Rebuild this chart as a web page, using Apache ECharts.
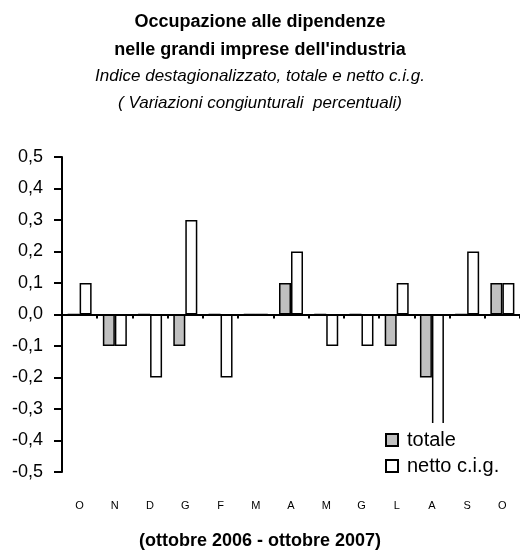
<!DOCTYPE html>
<html>
<head>
<meta charset="utf-8">
<script src="https://cdn.jsdelivr.net/npm/echarts@6/dist/echarts.min.js"></script>
<style>
  html, body { margin: 0; padding: 0; background: #fff; }
  #chart { width: 520px; height: 552px; }
</style>
</head>
<body>
<div id="chart"></div>
<script>
// mesi ottobre 2006 - ottobre 2007
let months = ['O', 'N', 'D', 'G', 'F', 'M', 'A', 'M', 'G', 'L', 'A', 'S', 'O'];
let totale = [0, -0.1, 0, -0.1, 0, 0, 0.1, 0, 0, -0.1, -0.2, 0, 0.1];
let netto = [0.1, -0.1, -0.2, 0.3, -0.2, 0, 0.2, -0.1, -0.1, 0.1, -0.5, 0.2, 0.1];
let yTicks = [-0.5, 0.5, 0.1];

let font = 'Liberation Sans, Arial, sans-serif';
let myChart = echarts.init(document.getElementById('chart'));

let option = {
    animation: false,
    backgroundColor: '#fff',
    title: [
        { text: 'Occupazione alle dipendenze', left: 'center', top: 8,
          textStyle: { fontFamily: font, fontSize: 18, fontWeight: 'bold', color: '#000' } },
        { text: "nelle grandi imprese dell'industria", left: 'center', top: 36,
          textStyle: { fontFamily: font, fontSize: 18, fontWeight: 'bold', color: '#000' } },
        { text: 'Indice destagionalizzato, totale e netto c.i.g.', left: 'center', top: 63,
          textStyle: { fontFamily: font, fontSize: 17, fontStyle: 'italic', fontWeight: 'normal', color: '#000' } },
        { text: '( Variazioni congiunturali  percentuali)', left: 'center', top: 90,
          textStyle: { fontFamily: font, fontSize: 17, fontStyle: 'italic', fontWeight: 'normal', color: '#000' } },
        { text: '(ottobre 2006 - ottobre 2007)', left: 'center', top: 527,
          textStyle: { fontFamily: font, fontSize: 18, fontWeight: 'bold', color: '#000' } }
    ],
    legend: {
        orient: 'vertical',
        left: 381,
        top: 423,
        padding: [7, 4, 8, 4],
        backgroundColor: '#fff',
        itemWidth: 12,
        itemHeight: 12,
        itemGap: 6,
        icon: 'rect',
        textStyle: { fontFamily: font, fontSize: 20, color: '#000', padding: [0, 0, 0, 4] },
        data: ['totale', 'netto c.i.g.']
    },
    grid: { left: 62, top: 157, width: 461, bottom: 80 },
    xAxis: [
        {
            type: 'category',
            data: months,
            axisLine: { onZero: true, lineStyle: { color: '#000', width: 2 } },
            axisTick: { show: true, inside: false, length: 4, lineStyle: { color: '#000', width: 2 } },
            axisLabel: { show: false }
        },
        {
            type: 'category',
            data: months,
            position: 'bottom',
            axisLine: { show: false, onZero: false },
            axisTick: { show: false },
            axisLabel: { margin: 28, fontFamily: font, fontSize: 11, color: '#000' }
        }
    ],
    yAxis: {
        type: 'value',
        min: yTicks[0],
        max: yTicks[1],
        interval: yTicks[2],
        axisLine: { show: true, lineStyle: { color: '#000', width: 2 } },
        axisTick: { show: true, length: 8, lineStyle: { color: '#000', width: 2 } },
        splitLine: { show: false },
        axisLabel: {
            margin: 19,
            fontFamily: font,
            fontSize: 18,
            color: '#000',
            formatter: function (v) { return v.toFixed(1).replace('.', ','); }
        }
    },
    series: [
        {
            name: 'totale',
            type: 'bar',
            data: totale,
            barWidth: 12,
            barGap: '0%',
            itemStyle: { color: '#c0c0c0', borderColor: '#000', borderWidth: 1.5 }
        },
        {
            name: 'netto c.i.g.',
            type: 'bar',
            data: netto,
            barWidth: 12,
            itemStyle: { color: '#fff', borderColor: '#000', borderWidth: 1.5 }
        }
    ]
};
myChart.setOption(option);
</script>
</body>
</html>
